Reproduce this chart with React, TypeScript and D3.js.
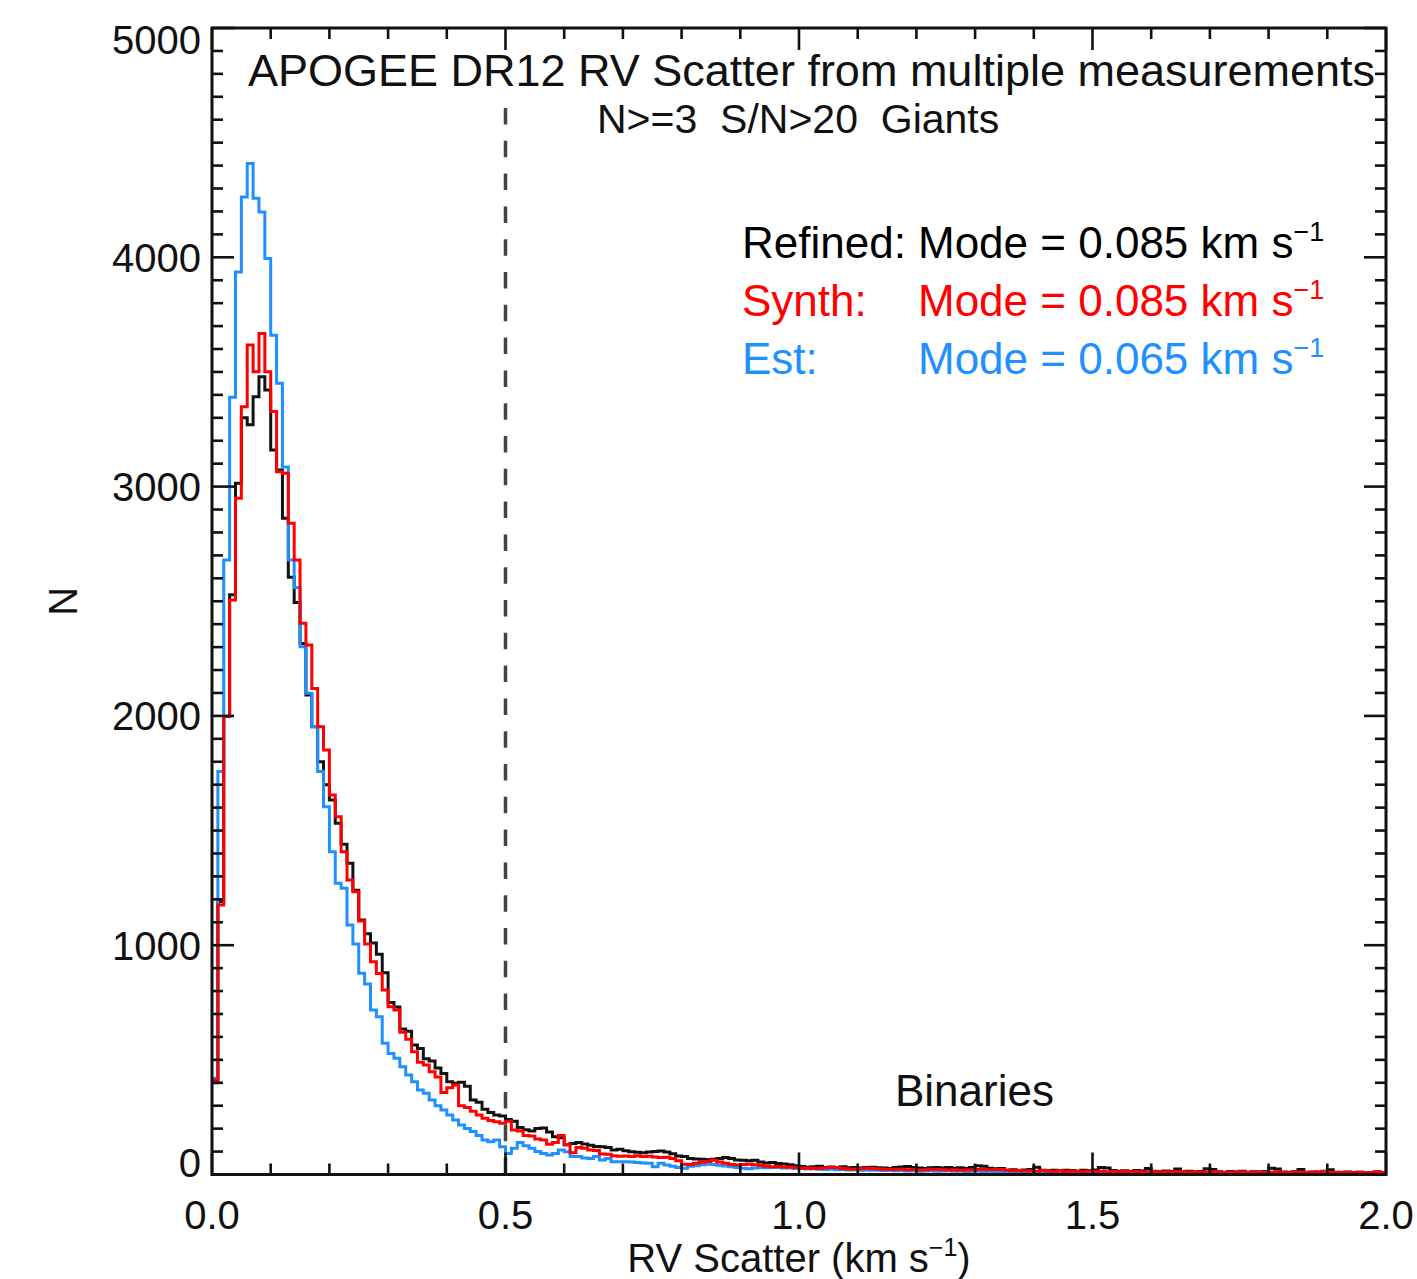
import React from 'react';
import * as d3 from 'd3';

const BIN_WIDTH = 0.01;

// Refined (black) histogram, bins of 0.01 km/s from 0 to 2.0
const refined = [
  400, 1190, 1997, 2528, 3015, 3300, 3270, 3392, 3479, 3421,
  3160, 3072, 2862, 2605, 2495, 2316, 2091, 1953, 1800, 1700,
  1633, 1532, 1440, 1357, 1240, 1110, 1050, 1010, 960, 880,
  750, 730, 635, 625, 565, 550, 505, 495, 465, 440,
  405, 398, 402, 385, 325, 315, 285, 270, 260, 255,
  240, 232, 205, 195, 190, 201, 203, 185, 165, 160,
  130, 135, 140, 133, 128, 122, 121, 118, 107, 110,
  104, 99, 97, 95, 98, 100, 102, 98, 90, 81,
  78, 70, 68, 66, 64, 66, 70, 74, 70, 63,
  62, 60, 62, 55, 50, 52, 48, 46, 42, 38,
  35, 32, 34, 36, 31, 33, 30, 34, 29, 31,
  28, 30, 32, 29, 28, 26, 30, 33, 35, 31,
  28, 26, 29, 31, 28, 30, 27, 29, 26, 30,
  38, 36, 27, 25, 26, 18, 21, 17, 20, 22,
  32, 19, 16, 18, 15, 19, 17, 14, 18, 16,
  20, 30, 28, 17, 14, 16, 13, 17, 15, 26,
  14, 12, 15, 13, 24, 12, 14, 11, 13, 25,
  22, 12, 10, 13, 11, 14, 10, 12, 11, 13,
  27, 24, 11, 9, 12, 22, 10, 11, 9, 12,
  21, 10, 8, 11, 9, 10, 8, 9, 11, 8,
];

// Synth (red)
const synth = [
  412, 1175, 1997, 2505, 2949, 3348, 3617, 3501, 3668, 3501,
  3327, 3065, 3058, 2840, 2680, 2404, 2309, 2120, 1953, 1851,
  1655, 1560, 1408, 1284, 1233, 1105, 1005, 928, 877, 805,
  732, 717, 620, 590, 535, 490, 477, 448, 425, 358,
  378, 390, 300, 292, 276, 260, 245, 235, 230, 223,
  232, 194, 190, 170, 168, 155, 150, 132, 140, 170,
  130, 95, 118, 114, 107, 105, 89, 88, 82, 80,
  81, 79, 82, 78, 80, 76, 74, 75, 70, 60,
  45, 44, 49, 53, 57, 62, 55, 49, 44, 41,
  44, 45, 42, 40, 36, 34, 35, 33, 32, 29,
  27, 28, 26, 27, 29, 31, 30, 26, 24, 23,
  25, 27, 26, 24, 23, 22, 23, 23, 21, 22,
  20, 21, 23, 22, 21, 20, 21, 19, 20, 21,
  22, 23, 21, 22, 22, 18, 16, 17, 15, 16,
  14, 17, 15, 14, 16, 13, 15, 14, 12, 15,
  13, 14, 12, 13, 11, 14, 12, 13, 11, 12,
  13, 10, 12, 11, 13, 10, 11, 12, 10, 11,
  13, 10, 9, 11, 10, 12, 9, 10, 11, 9,
  10, 12, 9, 10, 8, 11, 9, 10, 12, 14,
  9, 8, 10, 9, 8, 10, 9, 8, 12, 9,
];

// Est (blue)
const est = [
  420, 1757, 2680, 3390, 3936, 4263, 4409, 4257, 4198, 3995,
  3660, 3451, 3085, 2680, 2560, 2302, 2099, 1953, 1757, 1604,
  1408, 1270, 1248, 1088, 1005, 878, 831, 717, 688, 572,
  528, 507, 470, 434, 405, 368, 354, 325, 300, 281,
  260, 238, 216, 201, 187, 170, 150, 143, 150, 121,
  92, 114, 140, 125, 114, 100, 92, 85, 92, 107,
  99, 78, 78, 72, 70, 78, 63, 70, 56, 56,
  56, 54, 52, 50, 49, 34, 49, 41, 36, 30,
  27, 36, 38, 42, 45, 44, 40, 37, 34, 30,
  27, 25, 28, 30, 29, 31, 30, 28, 29, 27,
  26, 24, 25, 23, 22, 24, 21, 22, 20, 21,
  19, 20, 18, 19, 17, 18, 16, 17, 15, 16,
  14, 15, 16, 14, 15, 16, 14, 15, 13, 14,
  15, 13, 14, 12, 13, 12, 10, 11, 9, 11,
  10, 12, 9, 10, 11, 8, 10, 9, 11, 8,
  9, 10, 8, 9, 7, 9, 8, 10, 7, 8,
  9, 7, 8, 6, 8, 7, 9, 6, 7, 8,
  6, 7, 8, 6, 7, 5, 7, 6, 8, 5,
  6, 7, 5, 6, 7, 5, 6, 4, 6, 5,
  7, 5, 4, 6, 5, 4, 6, 5, 4, 5,
];

const xMajor = [0, 0.5, 1.0, 1.5, 2.0];
const xMajorLabels = ['0.0', '0.5', '1.0', '1.5', '2.0'];
const yMajor = [0, 1000, 2000, 3000, 4000, 5000];
const yMajorLabels = ['0', '1000', '2000', '3000', '4000', '5000'];

const legendLabels = ['Refined:', 'Synth:', 'Est:'];
const legendModes = ['0.085', '0.085', '0.065'];
const legendColors = ['#000000', '#ff0000', '#1e90ff'];

const titleText = 'APOGEE DR12 RV Scatter from multiple measurements';
const subtitleText = 'N>=3  S/N>20  Giants';
const binaryCut = 0.5;

const FONT = "'Liberation Sans', Arial, Helvetica, sans-serif";

export default function App() {
  const W = 1417;
  const H = 1279;
  const x = d3.scaleLinear().domain([0, 2]).range([212, 1386]);
  const y = d3.scaleLinear().domain([0, 5000]).range([1174.5, 28]);

  const line = d3
    .line<[number, number]>()
    .x((d) => x(d[0]))
    .y((d) => y(d[1]))
    .curve(d3.curveStepAfter);

  const toPts = (vals: number[]): [number, number][] => {
    const pts: [number, number][] = vals.map((v, i) => [i * BIN_WIDTH, v]);
    pts.push([vals.length * BIN_WIDTH, vals[vals.length - 1]]);
    return pts;
  };

  const xMinor = d3.range(0, 20.5, 1).map((i) => i / 10);
  const yMinor = d3.range(0, 51, 1).map((i) => i * 100);

  const x0 = x(0), x1 = x(2), y0 = y(0), y1 = y(5000);
  const majLen = 22, minLen = 11;
  const axisStroke = '#111';

  const series = [
    { vals: refined, color: '#111111' },
    { vals: est, color: '#1e90ff' },
    { vals: synth, color: '#ff0000' },
  ];

  return (
    <svg
      width={W}
      height={H}
      style={{ position: 'absolute', left: 0, top: 0, background: '#fff' }}
      fontFamily={FONT}
    >
      <rect x={0} y={0} width={W} height={H} fill="#fff" />

      {/* dashed binary cut */}
      <line
        x1={x(binaryCut)}
        x2={x(binaryCut)}
        y1={108}
        y2={y0}
        stroke="#444"
        strokeWidth={3.5}
        strokeDasharray="16.5,16.3"
      />

      {/* histograms */}
      {series.map((s, i) => (
        <path
          key={i}
          d={line(toPts(s.vals)) || ''}
          fill="none"
          stroke={s.color}
          strokeWidth={3}
          strokeLinejoin="miter"
        />
      ))}

      {/* frame */}
      <rect x={x0} y={y1} width={x1 - x0} height={y0 - y1} fill="none" stroke={axisStroke} strokeWidth={3} />

      {/* x ticks bottom & top */}
      {xMinor.map((v, i) => {
        const isMaj = xMajor.some((m) => Math.abs(m - v) < 1e-6);
        const len = isMaj ? majLen : minLen;
        return (
          <g key={'xt' + i}>
            <line x1={x(v)} x2={x(v)} y1={y0} y2={y0 - len} stroke={axisStroke} strokeWidth={2.6} />
            <line x1={x(v)} x2={x(v)} y1={y1} y2={y1 + len} stroke={axisStroke} strokeWidth={2.6} />
          </g>
        );
      })}
      {/* y ticks left & right */}
      {yMinor.map((v, i) => {
        const isMaj = v % 1000 === 0;
        const len = isMaj ? majLen : minLen;
        return (
          <g key={'yt' + i}>
            <line x1={x0} x2={x0 + len} y1={y(v)} y2={y(v)} stroke={axisStroke} strokeWidth={2.6} />
            <line x1={x1} x2={x1 - len} y1={y(v)} y2={y(v)} stroke={axisStroke} strokeWidth={2.6} />
          </g>
        );
      })}

      {/* x tick labels */}
      {xMajor.map((v, i) => (
        <text key={'xl' + i} x={x(v)} y={1229} fontSize={40} textAnchor="middle" fill="#111">
          {xMajorLabels[i]}
        </text>
      ))}
      {/* y tick labels */}
      {yMajor.map((v, i) => {
        const off = v === 5000 ? 12 : v === 0 ? -12 : 0;
        return (
          <text key={'yl' + i} x={201} y={y(v) + 14.3 + off} fontSize={40} textAnchor="end" fill="#111">
            {yMajorLabels[i]}
          </text>
        );
      })}

      {/* axis titles */}
      <text x={799} y={1272} fontSize={40} textAnchor="middle" fill="#111">
        RV Scatter (km s<tspan dy={-16} fontSize={25}>−1</tspan>
        <tspan dy={16}>)</tspan>
      </text>
      <text
        x={0}
        y={0}
        fontSize={40}
        textAnchor="middle"
        dominantBaseline="central"
        fill="#111"
        transform={`translate(63, ${(y0 + y1) / 2}) rotate(-90)`}
      >
        N
      </text>

      {/* title */}
      <text x={248} y={86} fontSize={45} fill="#111">
        {titleText}
      </text>
      <text x={597} y={133} fontSize={41} fill="#111" style={{ whiteSpace: 'pre' }}>
        {subtitleText}
      </text>

      {/* legend */}
      {legendLabels.map((lab, i) => (
        <g key={'lg' + i} fill={legendColors[i]}>
          <text x={742} y={258 + i * 58} fontSize={44}>
            {lab}
          </text>
          <text x={918} y={258 + i * 58} fontSize={44}>
            Mode = {legendModes[i]} km s<tspan dy={-17} fontSize={27}>−1</tspan>
          </text>
        </g>
      ))}

      <text x={895} y={1106} fontSize={44} fill="#111">
        Binaries
      </text>
    </svg>
  );
}
